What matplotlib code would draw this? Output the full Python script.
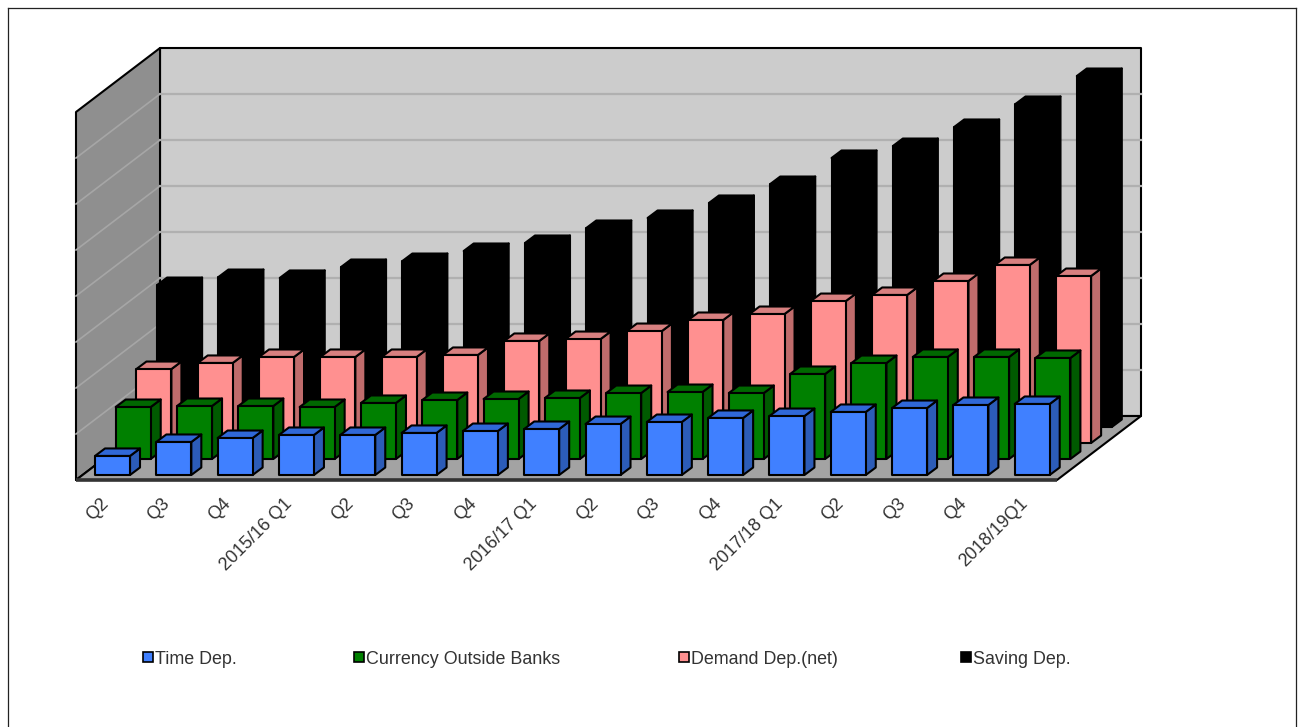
import matplotlib
matplotlib.use('Agg')
import matplotlib.pyplot as plt
from matplotlib.patches import Polygon, Rectangle
from matplotlib.lines import Line2D
from matplotlib.transforms import ScaledTranslation

W, H = 1298, 727

labels = ['Q2', 'Q3', 'Q4', '2015/16 Q1', 'Q2', 'Q3', 'Q4', '2016/17 Q1',
          'Q2', 'Q3', 'Q4', '2017/18 Q1', 'Q2', 'Q3', 'Q4', '2018/19Q1']

time_dep = [207, 359, 402, 435, 435, 457, 478, 500, 554, 576, 620, 641, 685, 728, 761, 772]
currency = [565, 576, 576, 565, 609, 641, 652, 663, 717, 728, 717, 924, 1043, 1109, 1109, 1098]
demand = [804, 870, 935, 935, 935, 957, 1109, 1130, 1217, 1337, 1402, 1543, 1609, 1761, 1935, 1815]
saving = [1543, 1630, 1620, 1739, 1804, 1913, 2000, 2163, 2272, 2435, 2641, 2924, 3054, 3261, 3511, 3815]

names = ['Time Dep.', 'Currency Outside Banks', 'Demand Dep.(net)', 'Saving Dep.']
series = [time_dep, currency, demand, saving]
# front, side, top
colors = [('#4080ff', '#2c5cb8', '#3068d8'),
          ('#008000', '#005a00', '#006800'),
          ('#ff9090', '#c06c6c', '#d88080'),
          ('#000000', '#000000', '#000000')]

YMAX = 4000
grid_vals = range(500, YMAX, 500)

# one category is 61.3 px, 500 units are 46 px
DEPTH_X = 84 / 61.3
DEPTH_Y = 64 / 0.092
BAR_W = 35 / 61.3
SIDE_X = 10 / 61.3
SIDE_Y = 7.5 / 0.092
LAYER_X = 20.7 / 61.3
LAYER_Y = 16 / 0.092
START_X = -0.5 + 19 / 61.3
START_Y = 5 / 0.092

fig = plt.figure(figsize=(W / 100, H / 100), dpi=100)
plt.rcParams['font.family'] = ['Liberation Sans', 'DejaVu Sans']
ax = fig.add_axes([76 / W, 1 - 480 / H, 981 / W, 368 / H])
ax.set_xlim(-0.5, 15.5)
ax.set_ylim(0, YMAX)
ax.patch.set_visible(False)
for s in ax.spines.values():
    s.set_visible(False)
ax.set_yticks([])
ax.set_xticks(range(len(labels)))
ax.set_xticklabels(labels, rotation=45, ha='right', va='top', rotation_mode='anchor',
                   fontsize=13, color='#333333', family=['Liberation Sans', 'DejaVu Sans'])
ax.tick_params(axis='x', length=0, pad=11)
shift = ScaledTranslation(-5 / 72, 0, fig.dpi_scale_trans)
for t in ax.get_xticklabels():
    t.set_transform(t.get_transform() + shift)


def poly(pts, face, edge='black', lw=1.5, z=1):
    ax.add_patch(Polygon(pts, closed=True, facecolor=face, edgecolor=edge, linewidth=lw,
                         clip_on=False, zorder=z, joinstyle='round'))


x0, x1 = -0.5, 15.5
# walls and floor
poly([(x0 + DEPTH_X, DEPTH_Y), (x1 + DEPTH_X, DEPTH_Y),
      (x1 + DEPTH_X, YMAX + DEPTH_Y), (x0 + DEPTH_X, YMAX + DEPTH_Y)], '#cccccc', z=1)
poly([(x0, 0), (x0 + DEPTH_X, DEPTH_Y), (x0 + DEPTH_X, YMAX + DEPTH_Y), (x0, YMAX)], '#8f8f8f', z=1)
poly([(x0, 0), (x1, 0), (x1 + DEPTH_X, DEPTH_Y), (x0 + DEPTH_X, DEPTH_Y)], '#a3a3a3', z=1)
ax.plot([x0, x1], [0, 0], color='#333333', lw=2.6, clip_on=False, zorder=2, solid_capstyle='butt')

for v in grid_vals:
    ax.plot([x0 + DEPTH_X, x1 + DEPTH_X], [v + DEPTH_Y, v + DEPTH_Y], color='#b0b0b0', lw=1.6,
            clip_on=False, zorder=2)
    ax.plot([x0, x0 + DEPTH_X], [v, v + DEPTH_Y], color='#a6a6a6', lw=1.2, clip_on=False, zorder=2)

# back series first so the front ones cover them
z = 3
for k in range(3, -1, -1):
    front, side, top = colors[k]
    base = START_Y + k * LAYER_Y
    for i, v in enumerate(series[k]):
        left = START_X + i + k * LAYER_X
        right = left + BAR_W
        poly([(right, base), (right + SIDE_X, base + SIDE_Y),
              (right + SIDE_X, base + v + SIDE_Y), (right, base + v)], side, z=z)
        poly([(left, base + v), (right, base + v),
              (right + SIDE_X, base + v + SIDE_Y), (left + SIDE_X, base + v + SIDE_Y)], top, z=z)
        poly([(left, base), (right, base), (right, base + v), (left, base + v)], front, z=z)
    z += 1

# picture frame, open at the bottom
frame = [((8, H), (8, 8)), ((8, 8), (1296, 8)), ((1296, 8), (1296, H))]
for a, b in frame:
    fig.add_artist(Line2D([a[0] / W, b[0] / W], [1 - a[1] / H, 1 - b[1] / H], color='#222222', lw=0.9))

# legend is spaced unevenly in the original, so place it by hand
legend_x = [143, 354, 679, 961]
for lx, name, c in zip(legend_x, names, colors):
    fig.add_artist(Rectangle((lx / W, 1 - 662 / H), 10 / W, 10 / H, transform=fig.transFigure,
                             facecolor=c[0], edgecolor='black', linewidth=1.2))
    fig.text((lx + 12) / W, 1 - 660 / H, name, fontsize=12.9, color='#333333', va='center', ha='left')

fig.savefig('out.png', dpi=100)
